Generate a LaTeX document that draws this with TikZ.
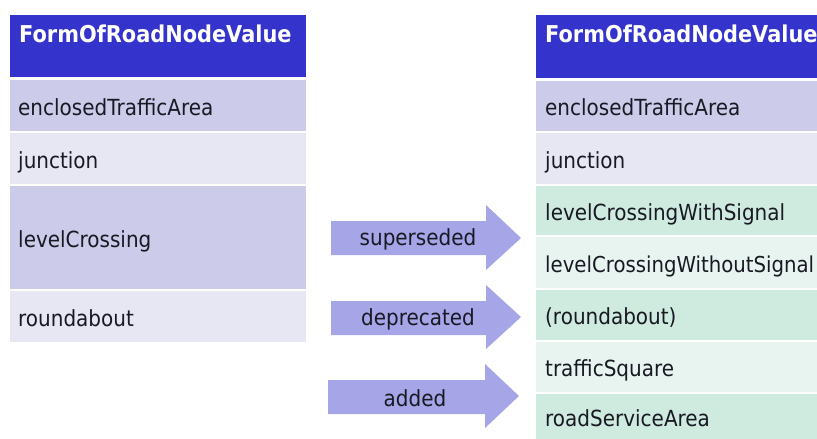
\documentclass[tikz,border=0pt]{standalone}
\usepackage{fontspec}
\setmainfont{DejaVu Sans}[FakeStretch=0.9]
\hyphenpenalty=10000
\exhyphenpenalty=10000
\definecolor{hdrblue}{RGB}{52,52,204}
\definecolor{lavD}{RGB}{204,204,234}
\definecolor{lavL}{RGB}{231,231,244}
\definecolor{grnD}{RGB}{207,235,223}
\definecolor{grnL}{RGB}{231,244,239}
\definecolor{arrowc}{RGB}{165,165,232}
\definecolor{txt}{RGB}{25,25,35}
\begin{document}
\begin{tikzpicture}[x=1pt,y=-1pt,
  bodyfont/.style={font=\fontsize{22.2}{26}\selectfont, text=txt},
  cell/.style={bodyfont, anchor=north west, rectangle, inner ysep=0pt,
    text height=19pt, text depth=0pt, align=left},
  lcell/.style={cell, minimum width=296pt, text width=280pt, inner xsep=8pt},
  rcell/.style={cell, minimum width=281pt, text width=263pt, inner xsep=9pt},
  hdrbox/.style={fill=hdrblue, anchor=north west, inner sep=0pt},
  hdrtext/.style={font=\fontsize{23.2}{27}\selectfont\bfseries, text=white, anchor=base west, inner sep=0pt},
  bigarrow/.style={fill=arrowc},
  arrowlabel/.style={bodyfont, inner sep=0pt}
]
\useasboundingbox (0,0) rectangle (817,439);

% ---------- left table ----------
\node[hdrbox, minimum width=296pt, minimum height=62pt] (lh) at (10,15) {};
\node[hdrtext] (lht) at (19,42) {FormOfRoadNodeValue};
\node[lcell, fill=lavD, minimum height=51pt] (l1) at (10,80) {enclosedTrafficArea};
\node[lcell, fill=lavL, minimum height=51pt] (l2) at (10,133) {junction};
\node[lcell, fill=lavD, minimum height=103pt] (l3) at (10,186) {levelCrossing};
\node[lcell, fill=lavL, minimum height=51pt] (l4) at (10,291) {roundabout};

% ---------- right table ----------
\node[hdrbox, minimum width=281pt, minimum height=63pt] (rh) at (536,15) {};
\node[hdrtext] (rht) at (545,42) {FormOfRoadNodeValue};
\node[rcell, fill=lavD, minimum height=50pt] (r1) at (536,81) {enclosedTrafficArea};
\node[rcell, fill=lavL, minimum height=51pt] (r2) at (536,133) {junction};
\node[rcell, fill=grnD, minimum height=49pt] (r3) at (536,186) {levelCrossingWithSignal};
\node[rcell, fill=grnL, minimum height=51pt, font=\fontsize{21.9}{26}\selectfont] (r4) at (536,237) {levelCrossingWithoutSignal};
\node[rcell, fill=grnD, minimum height=50pt] (r5) at (536,290) {(roundabout)};
\node[rcell, fill=grnL, minimum height=50pt] (r6) at (536,342) {trafficSquare};
\node[rcell, fill=grnD, minimum height=45pt] (r7) at (536,394) {roadServiceArea};

% ---------- arrows ----------
\fill[bigarrow] (331,221) -- (486,221) -- (486,205) -- (521,238) -- (486,270) -- (486,255) -- (331,255) -- cycle;
\node[arrowlabel] (a1) at (418,239) {superseded};

\fill[bigarrow] (331,301) -- (486,301) -- (486,285) -- (521,317) -- (486,349) -- (486,335) -- (331,335) -- cycle;
\node[arrowlabel] (a2) at (418,319) {deprecated};

\fill[bigarrow] (328,380) -- (485,380) -- (485,364) -- (519,396) -- (485,428) -- (485,414) -- (328,414) -- cycle;
\node[arrowlabel] (a3) at (415,398) {added};
\end{tikzpicture}
\end{document}
